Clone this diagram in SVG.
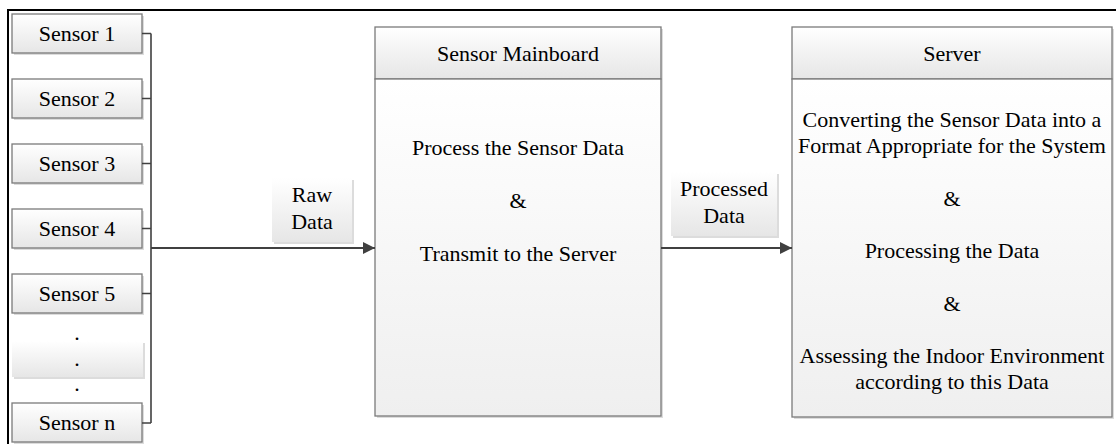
<svg xmlns="http://www.w3.org/2000/svg" width="1116" height="444" viewBox="0 0 1116 444">
<defs>
<linearGradient id="gBox" x1="0" y1="0" x2="0" y2="1">
<stop offset="0" stop-color="#ffffff"/>
<stop offset="1" stop-color="#e6e6e6"/>
</linearGradient>
<linearGradient id="gBody" x1="0" y1="0" x2="0" y2="1">
<stop offset="0" stop-color="#ffffff"/>
<stop offset="1" stop-color="#efefef"/>
</linearGradient>
<marker id="arr" markerWidth="12" markerHeight="12" refX="12" refY="6" orient="auto" markerUnits="userSpaceOnUse">
<path d="M0,0 L12,6 L0,12 Z" fill="#404040"/>
</marker>
</defs>
<style>
text{font-family:"Liberation Serif","Times New Roman",serif;font-size:22px;fill:#000;text-anchor:middle}
.box{fill:url(#gBox);stroke:#7a7a7a;stroke-width:1.3}
.body{fill:url(#gBody);stroke:#7a7a7a;stroke-width:1.3}
.lbl{fill:url(#gBox)}
.sh{fill:#dcdcdc}
.con{fill:none;stroke:#404040;stroke-width:1.6}
.main{fill:none;stroke:#404040;stroke-width:2.2}
</style>
<rect width="1116" height="444" fill="#fff"/>
<path d="M8,444 V10 H1116" fill="none" stroke="#000" stroke-width="2"/>

<g id="sensor1"><rect class="sh" x="14" y="16" width="130" height="39"/><rect class="box" x="12" y="14" width="130" height="39"/><text x="77" y="41">Sensor 1</text></g>
<g id="sensor2"><rect class="sh" x="14" y="81" width="130" height="39"/><rect class="box" x="12" y="79" width="130" height="39"/><text x="77" y="106">Sensor 2</text></g>
<g id="sensor3"><rect class="sh" x="14" y="146" width="130" height="39"/><rect class="box" x="12" y="144" width="130" height="39"/><text x="77" y="171">Sensor 3</text></g>
<g id="sensor4"><rect class="sh" x="14" y="211" width="130" height="39"/><rect class="box" x="12" y="209" width="130" height="39"/><text x="77" y="236">Sensor 4</text></g>
<g id="sensor5"><rect class="sh" x="14" y="276" width="130" height="39"/><rect class="box" x="12" y="274" width="130" height="39"/><text x="77" y="301">Sensor 5</text></g>
<g id="dots"><rect class="sh" x="14" y="343" width="131" height="36"/><rect class="lbl" x="12" y="341" width="131" height="36"/><text x="77" y="340">.</text><text x="77" y="366">.</text><text x="77" y="391">.</text></g>
<g id="sensorn"><rect class="sh" x="14" y="405" width="130" height="39"/><rect class="box" x="12" y="403" width="130" height="39"/><text x="77" y="430">Sensor n</text></g>

<g id="mainboard">
<rect class="sh" x="377" y="29" width="286" height="389"/>
<rect class="box" x="375" y="27" width="286" height="52"/>
<rect class="body" x="375" y="79" width="286" height="337"/>
<text x="518" y="61">Sensor Mainboard</text>
<text x="518" y="155">Process the Sensor Data</text>
<text x="518" y="208">&amp;</text>
<text x="518" y="261">Transmit to the Server</text>
</g>

<g id="server">
<rect class="sh" x="794" y="29" width="320" height="390"/>
<rect class="box" x="792" y="27" width="320" height="52"/>
<rect class="body" x="792" y="79" width="320" height="338"/>
<text x="952" y="61">Server</text>
<text x="952" y="127">Converting the Sensor Data into a</text>
<text x="952" y="153">Format Appropriate for the System</text>
<text x="952" y="206">&amp;</text>
<text x="952" y="258">Processing the Data</text>
<text x="952" y="311">&amp;</text>
<text x="952" y="363">Assessing the Indoor Environment</text>
<text x="952" y="389">according to this Data</text>
</g>

<g id="connectors">
<path class="con" d="M142,33.5 H151 M142,98.5 H151 M142,163.5 H151 M142,228.5 H151 M142,293.5 H151 M142,423 H151 M151,33.5 V423"/>
<path class="main" d="M151,248 H375" marker-end="url(#arr)"/>
<path class="main" d="M661,248 H792" marker-end="url(#arr)"/>
</g>

<g id="rawdata"><rect class="sh" x="274" y="180" width="80" height="64"/><rect class="lbl" x="272" y="178" width="80" height="64"/><text x="312" y="202">Raw</text><text x="312" y="229">Data</text></g>
<g id="processeddata"><rect class="sh" x="673" y="174" width="106" height="64"/><rect class="lbl" x="671" y="172" width="106" height="64"/><text x="724" y="196">Processed</text><text x="724" y="223">Data</text></g>
</svg>
